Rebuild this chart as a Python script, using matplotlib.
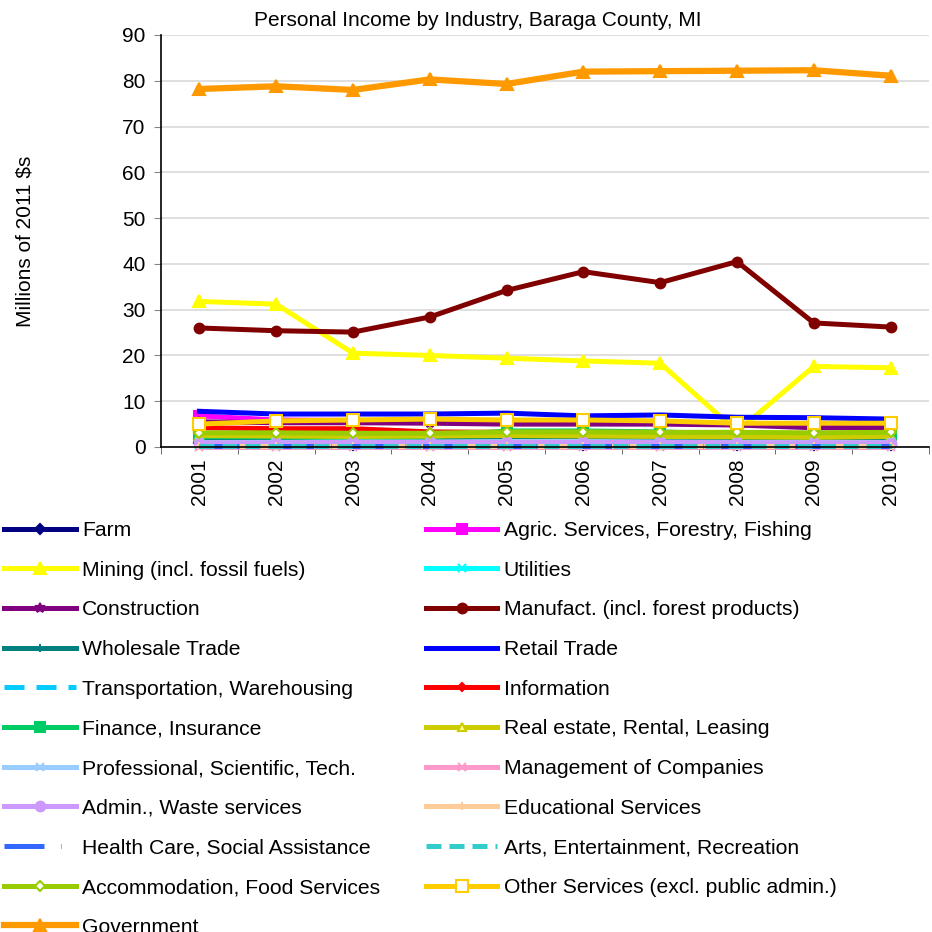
import matplotlib
matplotlib.use("Agg")
import matplotlib.pyplot as plt

plt.rcParams['font.family'] = ['Liberation Sans', 'DejaVu Sans']

years = ['2001', '2002', '2003', '2004', '2005', '2006', '2007', '2008', '2009', '2010']

farm = [0.9, 0.6, 0.5, 0.7, 0.6, 0.5, 0.6, 0.5, 0.4, 0.5]
agric = [6.8, 5.9, 5.8, 5.8, 5.6, 5.5, 5.2, 5.0, 5.0, 5.0]
mining = [31.8, 31.2, 20.5, 20.0, 19.4, 18.8, 18.3, 3.4, 17.6, 17.3]
utilities = [0.4, 0.4, 0.4, 0.4, 0.5, 0.5, 0.4, 0.4, 0.4, 0.4]
construction = [5.5, 5.3, 5.3, 5.2, 5.0, 5.0, 5.0, 4.8, 4.2, 4.2]
manufact = [26.0, 25.4, 25.1, 28.4, 34.2, 38.3, 35.9, 40.5, 27.1, 26.2]
wholesale = [2.0, 1.8, 1.6, 1.9, 2.0, 1.8, 1.6, 1.5, 1.4, 1.6]
retail = [7.8, 7.2, 7.2, 7.2, 7.4, 6.8, 7.0, 6.5, 6.4, 6.1]
transport = [0.6, 0.6, 0.6, 0.6, 0.6, 0.6, 0.6, 0.6, 0.6, 0.6]
information = [4.2, 4.0, 4.0, 3.3, 3.2, 3.0, 3.0, 2.7, 2.6, 2.6]
finance = [2.3, 2.2, 2.0, 2.2, 3.5, 3.5, 3.3, 2.8, 2.6, 2.6]
realestate = [2.5, 2.4, 2.3, 2.4, 2.5, 2.4, 2.3, 2.2, 2.1, 2.3]
professional = [1.0, 1.0, 1.1, 1.1, 1.2, 1.2, 1.1, 1.0, 1.0, 1.0]
management = [0.05, 0.05, 0.05, 0.05, 0.05, 0.05, 0.05, 0.05, 0.05, 0.05]
admin = [0.9, 0.9, 1.0, 1.0, 1.0, 1.0, 1.0, 0.9, 0.9, 0.9]
educational = [0.2, 0.2, 0.2, 0.2, 0.2, 0.2, 0.2, 0.2, 0.2, 0.2]
health = [0.3, 0.3, 0.3, 0.3, 0.3, 0.3, 0.3, 0.3, 0.3, 0.3]
arts = [0.3, 0.3, 0.3, 0.3, 0.3, 0.3, 0.3, 0.3, 0.3, 0.3]
accommodation = [3.1, 3.1, 3.0, 3.0, 3.3, 3.3, 3.2, 3.2, 3.1, 3.2]
other = [5.0, 5.7, 5.9, 6.1, 5.9, 5.9, 5.7, 5.2, 5.2, 5.2]
government = [78.2, 78.8, 78.0, 80.3, 79.3, 82.0, 82.1, 82.2, 82.3, 81.1]

names = ['Farm', 'Agric. Services, Forestry, Fishing', 'Mining (incl. fossil fuels)', 'Utilities',
         'Construction', 'Manufact. (incl. forest products)', 'Wholesale Trade', 'Retail Trade',
         'Transportation, Warehousing', 'Information', 'Finance, Insurance', 'Real estate, Rental, Leasing',
         'Professional, Scientific, Tech.', 'Management of Companies', 'Admin., Waste services',
         'Educational Services', 'Health Care, Social Assistance', 'Arts, Entertainment, Recreation',
         'Accommodation, Food Services', 'Other Services (excl. public admin.)', 'Government']
series = [farm, agric, mining, utilities, construction, manufact, wholesale, retail, transport,
          information, finance, realestate, professional, management, admin, educational, health,
          arts, accommodation, other, government]

# style: color, linestyle, marker, markersize, markerfacecolor
styles = [
    ('#000080', '-', 'D', 5, '#000080'),
    ('#FF00FF', '-', 's', 7, '#FF00FF'),
    ('#FFFF00', '-', '^', 8, '#FFFF00'),
    ('#00FFFF', '-', 'x', 6, '#00FFFF'),
    ('#800080', '-', '*', 7, '#800080'),
    ('#800000', '-', 'o', 7, '#800000'),
    ('#008080', '-', '+', 6, '#008080'),
    ('#0000FF', '-', None, 0, '#0000FF'),
    ('#00CCFF', (0, (4, 2.4)), None, 0, '#00CCFF'),
    ('#FF0000', '-', 'D', 4, '#FF0000'),
    ('#00CC66', '-', 's', 7, '#00CC66'),
    ('#CCCC00', '-', '^', 6, '#FFFF99'),
    ('#99CCFF', '-', 'x', 6, '#99CCFF'),
    ('#FF99CC', '-', 'x', 6, '#FF99CC'),
    ('#CC99FF', '-', 'o', 7, '#CC99FF'),
    ('#FFCC99', '-', '+', 6, '#FFCC99'),
    ('#3366FF', (0, (8, 3.4, 0.1, 3.4)), None, 0, '#3366FF'),
    ('#33CCCC', (0, (3, 1.6)), None, 0, '#33CCCC'),
    ('#99CC00', '-', 'D', 5, 'white'),
    ('#FFCC00', '-', 's', 8, 'white'),
    ('#FF9900', '-', '^', 9, '#FF9900'),
]

fig = plt.figure(figsize=(9.32, 9.32), dpi=100)
ax = fig.add_axes([161/932, 1-447/932, (929-161)/932, (447-35)/932])

x = list(range(len(years)))
handles = []
for name, vals, (c, ls, mk, ms, mfc) in zip(names, series, styles):
    lw = 4.5 if name == 'Government' else 3.6
    h, = ax.plot(x, vals, color=c, linestyle=ls, linewidth=lw, marker=mk, markersize=ms,
                 markerfacecolor=mfc, markeredgecolor=c, markeredgewidth=1.5, label=name,
                 solid_joinstyle='round', clip_on=False)
    handles.append(h)

ax.set_xlim(-0.5, 9.5)
ax.set_ylim(0, 90)
ax.set_yticks(range(0, 91, 10))
ax.yaxis.grid(True, color='#D9D9D9', linewidth=1.2)
ax.set_axisbelow(True)
ax.set_xticks(x)
ax.set_xticklabels(years, rotation=90, fontsize=15)
ax.set_xticks([i - 0.5 for i in range(11)], minor=True)
ax.tick_params(axis='x', which='major', length=0, pad=8)
ax.tick_params(axis='x', which='minor', length=5, direction='out', color='#555555')
ax.tick_params(axis='y', labelsize=15, length=5, direction='out', color='#888888', pad=6)
for s in ['top', 'right']:
    ax.spines[s].set_visible(False)
ax.spines['left'].set_linewidth(1.2)
ax.spines['bottom'].set_linewidth(1.2)

ax.set_ylabel('Millions of 2011 $s', fontsize=15)
ax.yaxis.set_label_coords((35 - 161) / 768, 0.5)
fig.text(478/932, 1-20/932, 'Personal Income by Industry, Baraga County, MI', ha='center', va='center', fontsize=15)

order = list(range(0, 21, 2)) + list(range(1, 21, 2))
leg = fig.legend([handles[i] for i in order], [names[i] for i in order], ncol=2,
                 loc='upper left', bbox_to_anchor=(4/932, 1-521/932), frameon=False,
                 fontsize=15.2, handlelength=3.4, handletextpad=0.3, columnspacing=2.15,
                 labelspacing=0.98, borderpad=0, borderaxespad=0)

fig.savefig('out.png', dpi=100)
